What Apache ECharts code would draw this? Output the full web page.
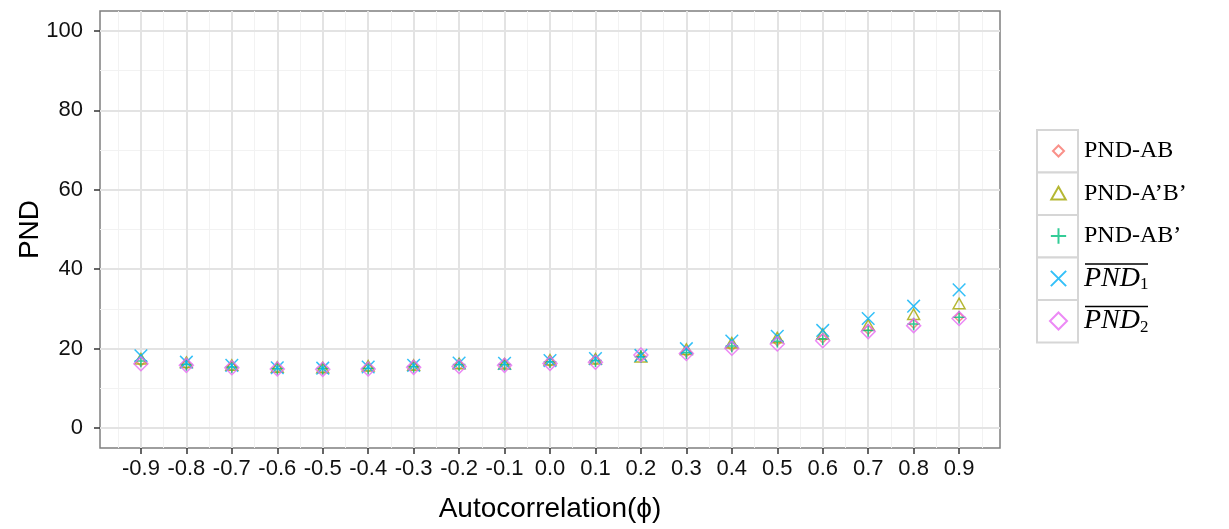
<!DOCTYPE html>
<html>
<head>
<meta charset="utf-8">
<script src="https://cdn.jsdelivr.net/npm/echarts@6/dist/echarts.min.js"></script>
<style>
  html, body { margin: 0; padding: 0; background: #fff; }
  #chart { width: 1229px; height: 529px; }
</style>
</head>
<body>
<div id="chart"></div>
<script>
// Autocorrelation values on the x axis
const phi = [-0.9, -0.8, -0.7, -0.6, -0.5, -0.4, -0.3, -0.2, -0.1, 0.0, 0.1, 0.2, 0.3, 0.4, 0.5, 0.6, 0.7, 0.8, 0.9];

// PND estimates for each autocorrelation level
const pndAB      = [16.8, 16.0, 15.5, 15.1, 15.0, 15.2, 15.6, 15.9, 16.0, 16.6, 17.1, 18.1, 19.1, 20.6, 21.9, 22.6, 24.8, 26.3, 28.0];
const pndApBp    = [17.4, 16.5, 15.8, 15.3, 15.2, 15.6, 15.8, 16.2, 16.1, 17.1, 17.4, 17.9, 19.8, 21.4, 22.7, 23.6, 25.9, 28.6, 31.3];
const pndABp     = [16.9, 16.0, 15.4, 15.0, 15.0, 15.1, 15.5, 16.0, 16.0, 16.7, 17.0, 18.0, 19.0, 20.7, 21.9, 22.5, 24.6, 26.2, 27.9];
const pndMean1   = [18.2, 16.6, 15.8, 15.2, 15.1, 15.4, 15.8, 16.4, 16.3, 17.0, 17.5, 18.3, 20.0, 21.9, 23.1, 24.6, 27.6, 30.7, 34.8];
const pndMean2   = [16.2, 15.8, 15.2, 14.9, 14.8, 14.9, 15.3, 15.5, 15.8, 16.3, 16.6, 18.4, 18.8, 20.1, 21.2, 22.0, 24.3, 25.8, 27.6];

// Axis breaks
const xBreaks = [-0.9, -0.8, -0.7, -0.6, -0.5, -0.4, -0.3, -0.2, -0.1, 0.0, 0.1, 0.2, 0.3, 0.4, 0.5, 0.6, 0.7, 0.8, 0.9];
const xMinorBreaks = [-0.95, -0.85, -0.75, -0.65, -0.55, -0.45, -0.35, -0.25, -0.15, -0.05, 0.05, 0.15, 0.25, 0.35, 0.45, 0.55, 0.65, 0.75, 0.85, 0.95];
const yBreaks = [0, 20, 40, 60, 80, 100];
const yMinorBreaks = [10, 30, 50, 70, 90];

// Marker shapes drawn inside a common 20x20 frame so sizes stay comparable
const SYM_SMALL_DIAMOND = 'path://M0 0M20 20M10 3.5L16.5 10L10 16.5L3.5 10Z';
const SYM_TRIANGLE      = 'path://M0 0M20 20M10 2L18.5 17L1.5 17Z';
const SYM_PLUS          = 'path://M0 0M20 20M10 1L10 19M1 10L19 10';
const SYM_CROSS         = 'path://M0 0M20 20M1 1L19 19M19 1L1 19';
const SYM_DIAMOND       = 'path://M0 0M20 20M10 0L20 10L10 20L0 10Z';

const seriesDefs = [
  { name: 'PND-AB',  values: pndAB,    color: '#F8766D', symbol: SYM_SMALL_DIAMOND },
  { name: 'PND-A’B’', values: pndApBp, color: '#A3A500', symbol: SYM_TRIANGLE },
  { name: 'PND-AB’', values: pndABp,   color: '#00BF7D', symbol: SYM_PLUS },
  { name: 'PND_1',   values: pndMean1, color: '#00B0F6', symbol: SYM_CROSS },
  { name: 'PND_2',   values: pndMean2, color: '#E76BF3', symbol: SYM_DIAMOND }
];

const gridLineData = []
  .concat(xMinorBreaks.map(v => ({ xAxis: v, lineStyle: { color: '#f2f2f2', width: 1, type: 'solid' } })))
  .concat(yMinorBreaks.map(v => ({ yAxis: v, lineStyle: { color: '#f2f2f2', width: 1, type: 'solid' } })))
  .concat(xBreaks.map(v => ({ xAxis: v, lineStyle: { color: '#e3e3e3', width: 2, type: 'solid' } })))
  .concat(yBreaks.map(v => ({ yAxis: v, lineStyle: { color: '#e3e3e3', width: 2, type: 'solid' } })));

const scatterSeries = seriesDefs.map((d, k) => ({
  type: 'scatter',
  name: d.name,
  symbol: d.symbol,
  symbolSize: 14,
  z: 3 + k,
  itemStyle: { color: 'rgba(0,0,0,0)', borderColor: d.color, borderWidth: 1.5 },
  data: phi.map((x, i) => [x, d.values[i]])
}));

// Legend key boxes
const keyTop = 130, keyH = 42.5;
const keyBoxes = seriesDefs.map((d, i) => ({
  type: 'rect', z: 0,
  shape: { x: 1037, y: keyTop + i * keyH, width: 41, height: keyH },
  style: { fill: '#ffffff', stroke: '#d6d6d6', lineWidth: 2 }
}));
// Bars over the averaged PND labels
const overlines = [3, 4].map(i => ({
  type: 'line', z: 10,
  shape: { x1: 1085, y1: keyTop + i * keyH + 6.5, x2: 1148, y2: keyTop + i * keyH + 6.5 },
  style: { stroke: '#000', lineWidth: 1.3 }
}));

const chart = echarts.init(document.getElementById('chart'), null, { renderer: 'canvas' });
chart.setOption({
  animation: false,
  backgroundColor: '#ffffff',
  grid: {
    left: 100, right: 229, top: 11, bottom: 81,
    outerBoundsMode: 'none', containLabel: false,
    show: true, borderColor: '#7f7f7f', borderWidth: 1.5, backgroundColor: '#ffffff'
  },
  xAxis: {
    type: 'value', min: -0.99, max: 0.99,
    name: 'Autocorrelation(ϕ)', nameLocation: 'middle', nameGap: 47,
    nameTextStyle: { fontFamily: 'Liberation Sans', fontSize: 28, color: '#000' },
    axisLine: { show: false, onZero: false },
    axisTick: { show: true, length: 6, customValues: xBreaks, lineStyle: { color: '#333', width: 1.5 } },
    axisLabel: {
      customValues: xBreaks, margin: 10,
      fontFamily: 'Liberation Sans', fontSize: 22, color: '#111',
      formatter: v => v.toFixed(1)
    },
    splitLine: { show: false }
  },
  yAxis: {
    type: 'value', min: -5, max: 105,
    name: 'PND', nameLocation: 'middle', nameGap: 56, nameRotate: 90, nameMoveOverlap: false,
    nameTextStyle: { fontFamily: 'Liberation Sans', fontSize: 28, color: '#000' },
    axisLine: { show: false, onZero: false },
    axisTick: { show: true, length: 6, customValues: yBreaks, lineStyle: { color: '#333', width: 1.5 } },
    axisLabel: {
      customValues: yBreaks, margin: 17,
      fontFamily: 'Liberation Sans', fontSize: 22, color: '#111'
    },
    splitLine: { show: false }
  },
  legend: {
    orient: 'vertical', left: 1044, top: 131, padding: 5,
    itemWidth: 41, itemHeight: 17, itemGap: 12.5,
    data: seriesDefs.map(d => d.name),
    formatter: name => {
      if (name === 'PND_1') return '{it|PND}{sub|1}';
      if (name === 'PND_2') return '{it|PND}{sub|2}';
      return name;
    },
    textStyle: {
      fontFamily: 'Liberation Serif', fontSize: 24, color: '#000', lineHeight: 30,
      rich: {
        it: { fontFamily: 'Liberation Serif', fontStyle: 'italic', fontSize: 28, lineHeight: 30, color: '#000' },
        sub: { fontFamily: 'Liberation Serif', fontSize: 17, lineHeight: 14, verticalAlign: 'bottom', color: '#000' }
      }
    }
  },
  graphic: keyBoxes.concat(overlines),
  series: [{
    type: 'scatter', name: 'grid', silent: true, data: [], z: 1,
    markLine: {
      silent: true, symbol: 'none', z: 1, animation: false,
      label: { show: false },
      data: gridLineData
    }
  }].concat(scatterSeries)
});
</script>
</body>
</html>
